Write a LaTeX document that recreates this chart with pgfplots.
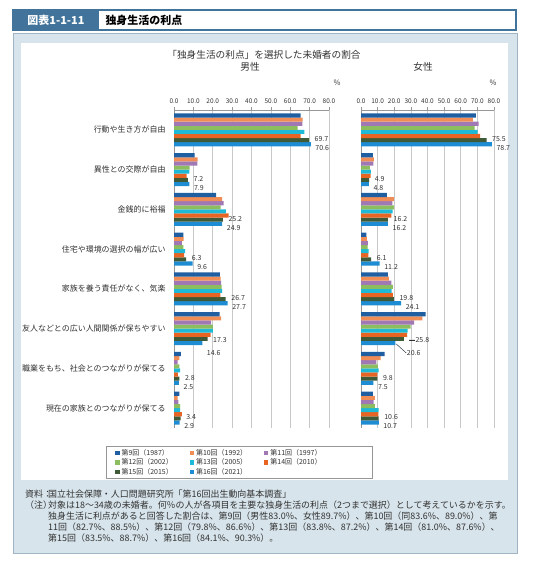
\documentclass[border=0pt]{standalone}
\usepackage{fontspec}
\setmainfont{Noto Sans CJK JP}
\usepackage{pgfplots}
\pgfplotsset{compat=1.18}
\usepackage{pgfplotstable}

\definecolor{c9}{RGB}{31,94,160}
\definecolor{c10}{RGB}{240,140,85}
\definecolor{c11}{RGB}{160,120,180}
\definecolor{c12}{RGB}{140,190,95}
\definecolor{c13}{RGB}{30,185,215}
\definecolor{c14}{RGB}{232,100,35}
\definecolor{c15}{RGB}{62,90,55}
\definecolor{c16}{RGB}{30,140,210}
\definecolor{hdr}{RGB}{66,116,155}
\definecolor{boxbg}{RGB}{215,228,235}
\definecolor{boxline}{RGB}{160,180,195}
\definecolor{gridc}{RGB}{200,200,200}
\definecolor{axc}{RGB}{150,150,150}
\definecolor{txt}{RGB}{50,50,50}

% male, share in %
\pgfplotstableread{
cat s9 s10 s11 s12 s13 s14 s15 s16
0 65.3 66.4 66.2 63.8 67.3 65.3 69.7 70.6
1 10.7 12.2 12.0 8.1 7.9 6.5 7.2 7.9
2 21.7 24.9 25.6 24.1 26.8 28.2 25.2 24.9
3 4.8 5.0 4.1 4.8 5.8 5.2 6.3 9.6
4 23.7 24.1 24.3 24.6 24.9 23.9 26.7 27.7
5 23.6 24.3 19.1 20.0 20.0 18.9 17.3 14.6
6 3.6 2.8 1.9 2.8 3.1 2.0 2.8 2.5
7 2.8 1.9 2.2 3.1 3.1 4.1 3.4 2.9
}\male

% female
\pgfplotstableread{
cat s9 s10 s11 s12 s13 s14 s15 s16
0 69.1 67.3 70.7 68.3 70.1 71.7 75.5 78.7
1 7.2 7.8 7.4 5.4 6.0 5.8 4.9 4.8
2 15.6 19.8 18.8 19.8 19.0 18.2 16.2 16.2
3 3.2 3.6 4.2 4.0 4.6 4.4 6.1 11.2
4 16.2 16.8 18.2 19.2 18.4 19.2 19.8 24.1
5 38.9 36.9 31.9 29.9 28.1 27.7 25.8 20.6
6 14.2 11.8 9.2 10.2 10.6 9.8 9.8 7.5
7 7.2 8.4 7.6 8.4 10.6 10.4 10.6 10.7
}\female

\pgfplotsset{
  sqlegend/.style={legend image code/.code={\fill[##1] (0bp,-2.2bp) rectangle (4.4bp,2.2bp);}},
  bs/.style={fill=#1, draw=none, sqlegend},
  lab/.style 2 args={
    nodes near coords={\pgfmathprintnumber[fixed,fixed zerofill,precision=1]{\pgfplotspointmeta}},
    point meta=x,
    visualization depends on={\thisrow{cat} \as \catid},
    every node near coord/.append style={font=\fontsize{7}{7}\selectfont, text=txt, inner sep=0.5bp, xshift=#1, yshift=#2}},
  panel/.style={
    scale only axis, width=#1, height=318bp, anchor=north west,
    xbar=0pt, bar width=4.1bp,
    xmin=0, xmax=80, ymin=-0.5, ymax=7.5, y dir=reverse,
    enlargelimits=false,
    axis x line*=top, axis y line*=left,
    axis line style={draw=axc, line width=0.6bp, -},
    xtick={0,10,...,80},
    xticklabel={\pgfmathprintnumber[fixed,fixed zerofill,precision=1]{\tick}},
    xticklabel style={font=\fontsize{6.5}{6.5}\selectfont, text=txt},
    x tick style={draw=axc, line width=0.6bp},
    tick align=outside, major tick length=3bp,
    xmajorgrids, grid style={draw=gridc, line width=0.6bp},
    y tick style={draw=none},
    /pgf/number format/assume math mode=true,
  }
}

\begin{document}
\begin{tikzpicture}[x=1bp,y=1bp]
\fill[white] (0,0) rectangle (538,564);
% header bar
\draw[hdr, line width=1.3bp, fill=white] (13,534) rectangle (516,554);
\fill[hdr] (13,534) rectangle (99,554);
\node[text=white, font=\fontsize{11}{11}\selectfont\bfseries] at (56,544) {図表1-1-11};
\node[anchor=west, font=\fontsize{11}{11}\selectfont\bfseries] at (102,544) {独身生活の利点};
% frame
\draw[boxline, line width=0.6bp, fill=boxbg] (13,11) rectangle (517,531);
\fill[white] (21,84) rectangle (508,521);
% titles
\begin{scope}[text=txt]
\node[font=\fontsize{9.7}{10}\selectfont] at (264,509) {「独身生活の利点」を選択した未婚者の割合};
\node[font=\fontsize{9.7}{10}\selectfont] at (250,497) {男性};
\node[font=\fontsize{9.7}{10}\selectfont] at (423,497) {女性};
\node[font=\fontsize{7.5}{8}\selectfont] at (337,481) {\%};
\node[font=\fontsize{7.5}{8}\selectfont] at (493,481) {\%};
\end{scope}

% plots are added from the 16th survey back to the 9th so that the 9th sits on top
\begin{axis}[panel=155bp, at={(174bp,454bp)},
  ytick={0,...,7},
  yticklabels={行動や生き方が自由, 異性との交際が自由, 金銭的に裕福, 住宅や環境の選択の幅が広い, 家族を養う責任がなく、気楽, 友人などとの広い人間関係が保ちやすい, 職業をもち、社会とのつながりが保てる, 現在の家族とのつながりが保てる},
  yticklabel style={font=\fontsize{8}{8}\selectfont, text=txt, xshift=-2bp},
  legend style={at={(axis description cs:-0.4387,-0.0566)}, anchor=north west,
    draw=axc, line width=0.5bp, fill=white, font=\fontsize{7}{8}\selectfont, text=txt,
    inner xsep=9bp, inner ysep=1bp, row sep=-2bp,
    /tikz/every even column/.append style={column sep=2bp}},
  legend columns=3, legend cell align=left, reverse legend,
]
\addplot[bs=c16, lab={4bp}{{(\catid==5 ? -10 : -4)*1bp}}] table[x=s16, y=cat] {\male};
\addlegendentry{\makebox[64bp][l]{第16回（2021）}}
\addplot[bs=c15, lab={5bp}{{(\catid==5 ? -1 : 1)*1bp}}] table[x=s15, y=cat] {\male};
\addlegendentry{\makebox[64bp][l]{第15回（2015）}}
\addplot[bs=c14] table[x=s14, y=cat] {\male};
\addlegendentry{\makebox[91bp][l]{第14回（2010）}}
\addplot[bs=c13] table[x=s13, y=cat] {\male};
\addlegendentry{\makebox[64bp][l]{第13回（2005）}}
\addplot[bs=c12] table[x=s12, y=cat] {\male};
\addlegendentry{\makebox[64bp][l]{第12回（2002）}}
\addplot[bs=c11] table[x=s11, y=cat] {\male};
\addlegendentry{\makebox[91bp][l]{第11回（1997）}}
\addplot[bs=c10] table[x=s10, y=cat] {\male};
\addlegendentry{\makebox[64bp][l]{第10回（1992）}}
\addplot[bs=c9] table[x=s9, y=cat] {\male};
\addlegendentry{\makebox[64bp][l]{第9回（1987）}}
\end{axis}

\begin{axis}[panel=133bp, at={(361bp,454bp)}, ytick=\empty]
\addplot[bs=c16, lab={{(\catid==5 ? 11 : 4)*1bp}}{{(\catid==5 ? -10 : -4)*1bp}},
  every node near coord/.append style={append after command={(\tikzlastnode.west) edge[draw=txt, line width=0.4bp] +({(\catid==5 ? -10 : 0)*1bp},{(\catid==5 ? 9 : 0)*1bp})}}]
  table[x=s16, y=cat] {\female};
\addplot[bs=c15, lab={{(\catid==5 ? 11 : 5)*1bp}}{{(\catid==5 ? -1 : 1)*1bp}},
  every node near coord/.append style={append after command={(\tikzlastnode.west) edge[draw=txt, line width=0.4bp] +({(\catid==5 ? -6 : 0)*1bp},0bp)}}]
  table[x=s15, y=cat] {\female};
\addplot[bs=c14] table[x=s14, y=cat] {\female};
\addplot[bs=c13] table[x=s13, y=cat] {\female};
\addplot[bs=c12] table[x=s12, y=cat] {\female};
\addplot[bs=c11] table[x=s11, y=cat] {\female};
\addplot[bs=c10] table[x=s10, y=cat] {\female};
\addplot[bs=c9] table[x=s9, y=cat] {\female};
\end{axis}

% notes
\begin{scope}[font=\fontsize{9}{9}\selectfont, text=txt, every node/.style={anchor=west, inner sep=0}]
\node at (25,70) {資料：};
\node at (48,70) {国立社会保障・人口問題研究所「第16回出生動向基本調査」};
\node at (25,59) {（注）};
\node at (48,59) {対象は18～34歳の未婚者。何％の人が各項目を主要な独身生活の利点（2つまで選択）として考えているかを示す。};
\node at (48,48) {独身生活に利点があると回答した割合は、第9回（男性83.0\%、女性89.7\%）、第10回（同83.6\%、89.0\%）、第};
\node at (48,37) {11回（82.7\%、88.5\%）、第12回（79.8\%、86.6\%）、第13回（83.8\%、87.2\%）、第14回（81.0\%、87.6\%）、};
\node at (48,26) {第15回（83.5\%、88.7\%）、第16回（84.1\%、90.3\%）。};
\end{scope}
\end{tikzpicture}
\end{document}
